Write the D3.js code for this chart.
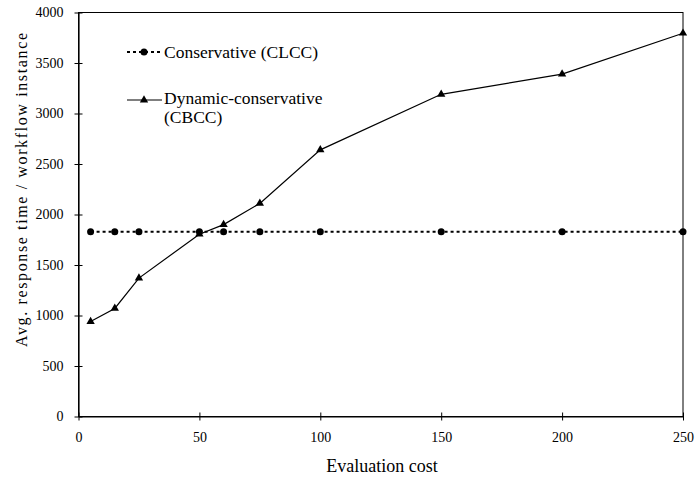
<!DOCTYPE html>
<html>
<head>
<meta charset="utf-8">
<script src="https://cdn.jsdelivr.net/npm/d3@7"></script>
<style>
  html, body { margin: 0; padding: 0; background: #fff; }
  svg { display: block; font-family: "Liberation Serif", "Times New Roman", serif; }
  .tick text { font-size: 14px; fill: #000; font-family: "Liberation Serif", "Times New Roman", serif; }
  .axis path, .axis line { stroke: #000; }
</style>
</head>
<body>
<div id="chart"></div>
<script>
/* ---------- Data ---------- */
const evalCost = [5, 15, 25, 50, 60, 75, 100, 150, 200, 250];
const conservative = [1830, 1830, 1830, 1830, 1830, 1830, 1830, 1830, 1830, 1830];
const dynamicConservative = [940, 1070, 1370, 1805, 1900, 2110, 2640, 3190, 3390, 3795];
const xTicks = [0, 50, 100, 150, 200, 250];
const yTicks = [0, 500, 1000, 1500, 2000, 2500, 3000, 3500, 4000];

const W = 696, H = 479;
const M = { top: 12.5, right: 13, bottom: 62.5, left: 78.5 };

const svg = d3.select("#chart").append("svg")
  .attr("width", W).attr("height", H);

const x = d3.scaleLinear().domain([0, 250]).range([M.left, W - M.right]);
const y = d3.scaleLinear().domain([0, 4000]).range([H - M.bottom, M.top]);

// plot frame
svg.append("rect")
  .attr("x", x(0)).attr("y", y(4000))
  .attr("width", x(250) - x(0)).attr("height", y(0) - y(4000))
  .attr("fill", "none").attr("stroke", "#000").attr("stroke-width", 1);

// axes (ticks cross the axis line)
const gx = svg.append("g").attr("class", "axis")
  .attr("transform", `translate(0,${y(0)})`)
  .call(d3.axisBottom(x).tickValues(xTicks).tickFormat(d3.format("d"))
    .tickSize(4).tickSizeOuter(0).tickPadding(12))
  .attr("font-family", null);
gx.selectAll(".tick line").attr("y1", -4);

const gy = svg.append("g").attr("class", "axis")
  .attr("transform", `translate(${x(0)},0)`)
  .call(d3.axisLeft(y).tickValues(yTicks).tickFormat(d3.format("d"))
    .tickSize(4).tickSizeOuter(0).tickPadding(11))
  .attr("font-family", null);
gy.selectAll(".tick line").attr("x1", 4);
svg.selectAll(".axis .domain").attr("stroke-width", 1.2);

// axis titles
svg.append("text")
  .attr("x", 382).attr("y", 472)
  .attr("text-anchor", "middle").attr("font-size", 18)
  .text("Evaluation cost");

svg.append("text")
  .attr("transform", "translate(27,190) rotate(-90)")
  .attr("text-anchor", "middle").attr("font-size", 16)
  .attr("textLength", 314).attr("lengthAdjust", "spacing")
  .text("Avg. response time / workflow instance");

/* ---------- Series ---------- */
const line = d3.line().x((d, i) => x(evalCost[i])).y(d => y(d));

svg.append("path")
  .datum(conservative)
  .attr("d", line)
  .attr("fill", "none").attr("stroke", "#000")
  .attr("stroke-width", 2).attr("stroke-dasharray", "3,3");

svg.append("g").selectAll("circle")
  .data(conservative)
  .join("circle")
    .attr("cx", (d, i) => x(evalCost[i]))
    .attr("cy", d => y(d))
    .attr("r", 3.5)
    .attr("fill", "#000");

svg.append("path")
  .datum(dynamicConservative)
  .attr("d", line)
  .attr("fill", "none").attr("stroke", "#000").attr("stroke-width", 1.2);

const tri = d3.symbol().type(d3.symbolTriangle).size(30);
svg.append("g").selectAll("path")
  .data(dynamicConservative)
  .join("path")
    .attr("d", tri)
    .attr("transform", (d, i) => `translate(${x(evalCost[i])},${y(d)})`)
    .attr("fill", "#000");

/* ---------- Legend ---------- */
const legend = svg.append("g").attr("font-size", 17.5);

legend.append("line")
  .attr("x1", 127).attr("x2", 162).attr("y1", 52).attr("y2", 52)
  .attr("stroke", "#000").attr("stroke-width", 2).attr("stroke-dasharray", "3,3");
legend.append("circle").attr("cx", 144).attr("cy", 52).attr("r", 3.5).attr("fill", "#000");
legend.append("text").attr("x", 164).attr("y", 58).text("Conservative (CLCC)");

legend.append("line")
  .attr("x1", 127).attr("x2", 162).attr("y1", 100).attr("y2", 100)
  .attr("stroke", "#000").attr("stroke-width", 1.2);
legend.append("path").attr("d", tri).attr("transform", "translate(144,100)").attr("fill", "#000");
legend.append("text").attr("x", 164).attr("y", 104).text("Dynamic-conservative");
legend.append("text").attr("x", 164).attr("y", 123).text("(CBCC)");
</script>
</body>
</html>
